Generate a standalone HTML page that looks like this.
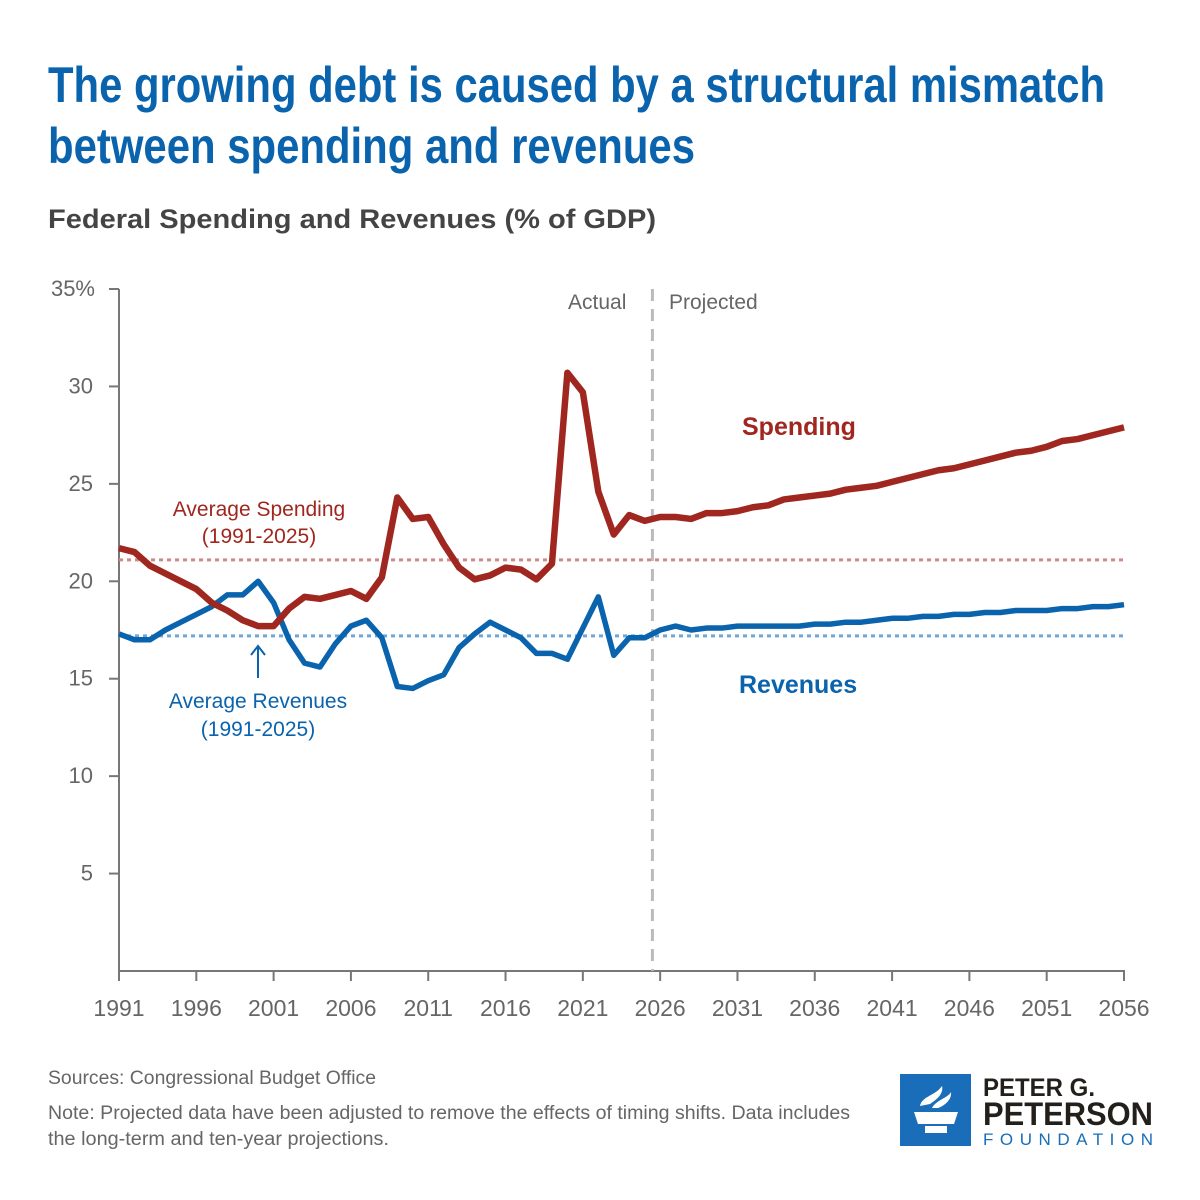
<!DOCTYPE html>
<html><head><meta charset="utf-8"><style>
body{margin:0;background:#fff;font-family:"Liberation Sans",sans-serif;}
#w{position:relative;width:1200px;height:1200px;overflow:hidden;}
</style></head><body><div id="w">
<svg id="s" width="1200" height="1200" style="position:absolute;left:0;top:0">
<text x="48" y="102" font-size="50" font-weight="bold" fill="#0a63ad" font-family="Liberation Sans Narrow, Liberation Sans, sans-serif" textLength="1057" lengthAdjust="spacingAndGlyphs">The growing debt is caused by a structural mismatch</text>
<text x="48" y="163" font-size="50" font-weight="bold" fill="#0a63ad" font-family="Liberation Sans Narrow, Liberation Sans, sans-serif" textLength="647" lengthAdjust="spacingAndGlyphs">between spending and revenues</text>
<text x="48" y="228" font-size="27" font-weight="bold" fill="#444" textLength="608" lengthAdjust="spacingAndGlyphs">Federal Spending and Revenues (% of GDP)</text>
<g id="axes"></g>
<g id="marks"></g>
<text x="568" y="309" font-size="21" fill="#666">Actual</text>
<text x="669" y="309" font-size="21" fill="#666">Projected</text>
<text x="742" y="435" font-size="25" font-weight="bold" fill="#a0271f">Spending</text>
<text x="739" y="693" font-size="25" font-weight="bold" fill="#0a63ad">Revenues</text>
<text x="259" y="516" font-size="21" fill="#a0271f" text-anchor="middle">Average Spending</text>
<text x="259" y="543" font-size="21" fill="#a0271f" text-anchor="middle">(1991-2025)</text>
<text x="258" y="708" font-size="21" fill="#0a63ad" text-anchor="middle">Average Revenues</text>
<text x="258" y="736" font-size="21" fill="#0a63ad" text-anchor="middle">(1991-2025)</text>
<g stroke="#0a63ad" stroke-width="2" fill="none"><line x1="258" y1="678" x2="258" y2="647"/><polyline points="251,655 258,646 265,655"/></g>
<text x="48" y="1084" font-size="19" fill="#666" textLength="328" lengthAdjust="spacingAndGlyphs">Sources: Congressional Budget Office</text>
<text x="48" y="1119" font-size="19" fill="#666" textLength="802" lengthAdjust="spacingAndGlyphs">Note: Projected data have been adjusted to remove the effects of timing shifts. Data includes</text>
<text x="48" y="1145" font-size="19" fill="#666" textLength="341" lengthAdjust="spacingAndGlyphs">the long-term and ten-year projections.</text>
<g>
<rect x="900" y="1074" width="71" height="72" fill="#1a6db8"/>
<path d="M914 1112 L958 1112 L954 1124 L918 1124 Z M925 1126 L947 1126 L947 1133 L925 1133 Z" fill="#fff"/>
<path d="M920 1106 C922 1096 935 1096 942 1086 C944 1094 936 1100 930 1104 Z M932 1108 C936 1100 948 1098 951 1092 C952 1100 944 1106 938 1108 Z" fill="#fff"/>
<text x="983" y="1096" font-size="25" font-weight="bold" fill="#231f1a" font-family="Liberation Sans Narrow, Liberation Sans, sans-serif" textLength="112" lengthAdjust="spacingAndGlyphs">PETER G.</text>
<text x="983" y="1125" font-size="32" font-weight="bold" fill="#231f1a" font-family="Liberation Sans Narrow, Liberation Sans, sans-serif" textLength="170" lengthAdjust="spacingAndGlyphs">PETERSON</text>
<text x="983" y="1145" font-size="17" fill="#1a6db8" textLength="170" lengthAdjust="spacing">FOUNDATION</text>
</g>
</svg>
<script>
const years=[1991,1992,1993,1994,1995,1996,1997,1998,1999,2000,2001,2002,2003,2004,2005,2006,2007,2008,2009,2010,2011,2012,2013,2014,2015,2016,2017,2018,2019,2020,2021,2022,2023,2024,2025,2026,2027,2028,2029,2030,2031,2032,2033,2034,2035,2036,2037,2038,2039,2040,2041,2042,2043,2044,2045,2046,2047,2048,2049,2050,2051,2052,2053,2054,2055,2056];
const spending=[21.7,21.5,20.8,20.4,20.0,19.6,18.9,18.5,18.0,17.7,17.7,18.6,19.2,19.1,19.3,19.5,19.1,20.2,24.3,23.2,23.3,21.9,20.7,20.1,20.3,20.7,20.6,20.1,20.9,30.7,29.7,24.6,22.4,23.4,23.1,23.3,23.3,23.2,23.5,23.5,23.6,23.8,23.9,24.2,24.3,24.4,24.5,24.7,24.8,24.9,25.1,25.3,25.5,25.7,25.8,26.0,26.2,26.4,26.6,26.7,26.9,27.2,27.3,27.5,27.7,27.9];
const revenues=[17.3,17.0,17.0,17.5,17.9,18.3,18.7,19.3,19.3,20.0,18.9,17.0,15.8,15.6,16.8,17.7,18.0,17.1,14.6,14.5,14.9,15.2,16.6,17.3,17.9,17.5,17.1,16.3,16.3,16.0,17.6,19.2,16.2,17.1,17.1,17.5,17.7,17.5,17.6,17.6,17.7,17.7,17.7,17.7,17.7,17.8,17.8,17.9,17.9,18.0,18.1,18.1,18.2,18.2,18.3,18.3,18.4,18.4,18.5,18.5,18.5,18.6,18.6,18.7,18.7,18.8];
const avgSpending=21.1;
const avgRevenues=17.2;
const yTicks=[5,10,15,20,25,30,35];
const xTicks=[1991,1996,2001,2006,2011,2016,2021,2026,2031,2036,2041,2046,2051,2056];
const splitYear=2025.5;
const X=y=>119+(y-1991)*(1005/65);
const Y=v=>971-v*(682/35);
const NS="http://www.w3.org/2000/svg";
const ax=document.getElementById('axes'),mk=document.getElementById('marks');
function el(p,t,a){const e=document.createElementNS(NS,t);for(const k in a)e.setAttribute(k,a[k]);p.appendChild(e);return e;}
let e=el(ax,'line',{x1:119,y1:289,x2:119,y2:971,stroke:'#777','stroke-width':2});


e=el(ax,'line',{x1:119,y1:971,x2:1125,y2:971,stroke:'#777','stroke-width':2});


yTicks.forEach(v=>{
 el(ax,'line',{x1:109,x2:119,y1:Y(v),y2:Y(v),stroke:'#777','stroke-width':2});
 const t=el(ax,'text',{x:93,y:Y(v)+7,'font-size':22,fill:'#666','text-anchor':'end'});
 t.textContent=v===35?'35%':v;
 if(v===35)t.setAttribute('x',95);
 
 
});
xTicks.forEach(y=>{
 el(ax,'line',{x1:X(y),x2:X(y),y1:971,y2:981,stroke:'#777','stroke-width':2});
 const t=el(ax,'text',{x:X(y),y:1016,'font-size':23,fill:'#666','text-anchor':'middle'});
 t.textContent=y;
 
 
});
e=el(mk,'line',{x1:119,x2:1124,y1:Y(avgSpending),y2:Y(avgSpending),stroke:'#d08a86','stroke-width':3,'stroke-dasharray':'4 4'});


e=el(mk,'line',{x1:119,x2:1124,y1:Y(avgRevenues),y2:Y(avgRevenues),stroke:'#6fa6d6','stroke-width':3,'stroke-dasharray':'4 4'});


e=el(mk,'line',{x1:X(splitYear),x2:X(splitYear),y1:289,y2:971,stroke:'#bbb','stroke-width':3,'stroke-dasharray':'12 8'});


e=el(mk,'polyline',{points:years.map((y,i)=>X(y)+','+Y(revenues[i])).join(' '),fill:'none',stroke:'#0a63ad','stroke-width':5.5,'stroke-linejoin':'round'});


e=el(mk,'polyline',{points:years.map((y,i)=>X(y)+','+Y(spending[i])).join(' '),fill:'none',stroke:'#a0271f','stroke-width':6.5,'stroke-linejoin':'round'});


</script>
</div></body></html>
